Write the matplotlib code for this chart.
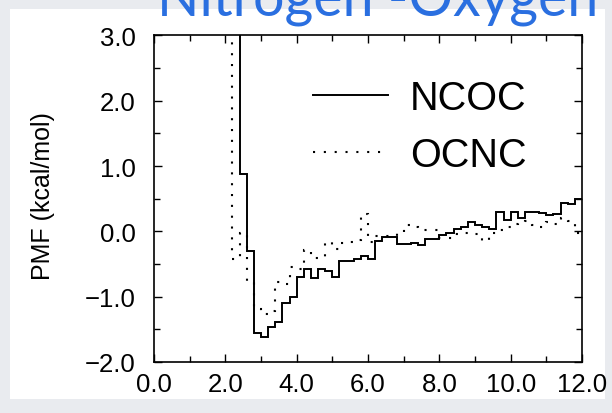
import numpy as np
import matplotlib
matplotlib.use("Agg")
import matplotlib.pyplot as plt
from matplotlib.patches import Rectangle
from matplotlib.ticker import MultipleLocator

# Potential of mean force histograms (0.2 A bins), kcal/mol
BIN = 0.2
OFF_SCALE = 4.0  # bins above the plotted range

ncoc_start = 2.2
ncoc_pmf = [OFF_SCALE, 0.88, -0.30, -1.55, -1.62, -1.47, -1.38, -1.10, -1.00,
            -0.70, -0.58, -0.72, -0.58, -0.60, -0.70, -0.46, -0.46, -0.42,
            -0.37, -0.43, -0.15, -0.08, -0.08, -0.20, -0.20, -0.18, -0.21,
            -0.12, -0.12, -0.06, -0.02, 0.04, 0.06, 0.14, 0.09, 0.07, 0.03,
            0.29, 0.17, 0.30, 0.21, 0.30, 0.30, 0.28, 0.25, 0.26, 0.44, 0.42,
            0.49]

ocnc_start = 2.0
ocnc_pmf = [OFF_SCALE, -0.43, -0.02, -0.77, -1.19, -1.27, -1.22, -0.78, -0.81,
            -0.55, -0.58, -0.28, -0.41, -0.40, -0.16, -0.27, -0.18, -0.17,
            -0.13, 0.26, -0.17, -0.07, -0.07, -0.07, -0.02, 0.09, 0.07, 0.02,
            0.02, 0.02, -0.10, -0.10, -0.04, -0.02, -0.02, -0.04, -0.15,
            -0.03, 0.02, 0.06, 0.12, 0.14, 0.16, 0.10, 0.06, 0.14, 0.12, 0.21,
            0.16, -0.02]

series_labels = ["NCOC", "OCNC"]
x_ticks = [0.0, 2.0, 4.0, 6.0, 8.0, 10.0, 12.0]
y_ticks = [-2.0, -1.0, 0.0, 1.0, 2.0, 3.0]
title = "Nitrogen -Oxygen"
ylabel = "PMF (kcal/mol)"


def edges(start, n):
    return start + BIN * np.arange(n + 1)


W, H = 612, 414
fig = plt.figure(figsize=(W / 100, H / 100), dpi=100)
fig.patch.set_facecolor("#e9ebef")

# white slide panel
fig.add_artist(Rectangle((10 / W, 1 - 400 / H), 595 / W, 390 / H,
                         transform=fig.transFigure, facecolor="white",
                         edgecolor="none", zorder=0))

fig.text(378 / W, 1 - 15 / H, title, ha="center", va="baseline",
         fontsize=40, color="#2a6fe0", family=["Lato", "DejaVu Sans"],
         zorder=5)

ax = fig.add_axes([154 / W, 1 - 363 / H, 428 / W, 326.6 / H])
ax.set_facecolor("none")

ax.stairs(ncoc_pmf, edges(ncoc_start, len(ncoc_pmf)), baseline=None,
          color="black", lw=1.4, label=series_labels[0])
ax.stairs(ocnc_pmf, edges(ocnc_start, len(ocnc_pmf)), baseline=None,
          color="black", lw=1.5, linestyle=(0, (1, 4.2)),
          label=series_labels[1])

ax.set_xlim(0, 12)
ax.set_ylim(-2, 3)
ax.set_xticks(x_ticks)
ax.set_yticks(y_ticks)
ax.set_xticklabels([f"{t:.1f}" for t in x_ticks])
ax.set_yticklabels([f"{t:.1f}".replace("-", "\u2212") for t in y_ticks])
ax.xaxis.set_minor_locator(MultipleLocator(1.0))
ax.yaxis.set_minor_locator(MultipleLocator(0.5))

font = ["Liberation Sans", "DejaVu Sans"]
ax.tick_params(which="both", direction="in", top=True, right=True,
               width=1.0, color="black")
ax.tick_params(which="major", length=6)
ax.tick_params(which="minor", length=4)
ax.tick_params(axis="x", pad=7)
ax.tick_params(axis="y", pad=13)
for lab in ax.get_xticklabels() + ax.get_yticklabels():
    lab.set_fontsize(18.5)
    lab.set_family(font)

for s in ax.spines.values():
    s.set_linewidth(1.2)

fig.text(43 / W, 1 - 196 / H, ylabel, rotation=90, ha="center", va="center",
         fontsize=18, family=font)

leg = ax.legend(loc="upper left", bbox_to_anchor=(313 / W, 1 - 80 / H),
                bbox_transform=fig.transFigure, frameon=False,
                prop={"family": font, "size": 28.5}, handlelength=1.9,
                handletextpad=0.55, labelspacing=0.48, borderpad=0,
                borderaxespad=0)

fig.savefig("out.png", dpi=100, facecolor=fig.get_facecolor())
